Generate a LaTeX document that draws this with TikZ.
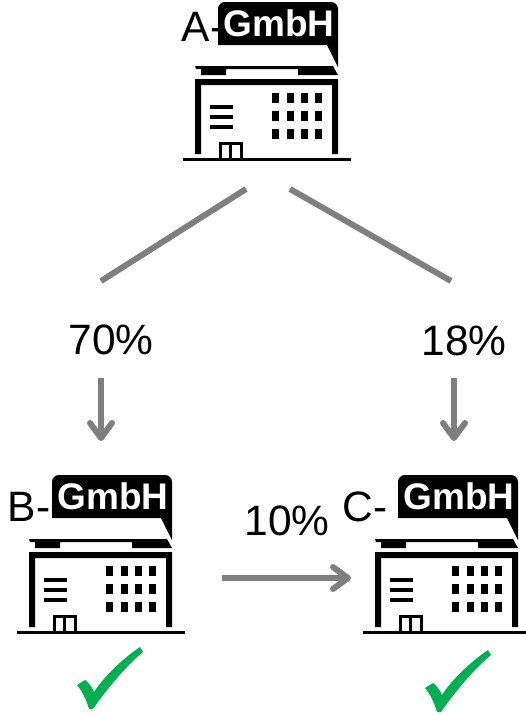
\documentclass[tikz,border=0pt]{standalone}
\usepackage{fontspec}
\setmainfont{Liberation Sans}
\usetikzlibrary{arrows.meta}
\definecolor{tickgreen}{HTML}{00B050}
\definecolor{linkgray}{HTML}{7F7F7F}

\begin{document}
\begin{tikzpicture}[x=1pt,y=-1pt,
   label/.style={inner sep=0pt,font=\fontsize{42.5}{42.5}\selectfont},
   share/.style={draw=linkgray,line width=6pt},
   flow/.style={share,-{Straight Barb[length=15pt,width=22pt,round]}},
   tick/.pic={
     \fill[tickgreen] (0,38) -- (8,33) .. controls (12,36) and (15,40) .. (17,45)
        .. controls (28,28) and (48,10) .. (63,0) -- (66,5)
        .. controls (48,20) and (30,42) .. (16,62) -- (12,62) .. controls (9,52) and (5,44) .. (0,38) -- cycle;
   },
   office/.pic={
     % speech bubble
     \fill[black] (0,43) -- (0,7) .. controls (0,3) and (3,0) .. (7,0) -- (113,0)
        .. controls (117,0) and (120,3) .. (120,7) -- (120,65) -- (109,43) -- cycle;
     \node[text=white,inner sep=0pt,font=\fontsize{37}{37}\selectfont\bfseries] (gmbh) at (61,21) {GmbH};
     % roof
     \fill[black] (-23,64) -- (115,64) -- (120,73) -- (80,73) -- (80,67) -- (8,67) -- (8,73) -- (-17,73) -- (-17,67) -- (-22,67) -- cycle;
     \fill[black] (-23,77) -- (120,77) -- (120,152) -- (114,152) -- (114,83) -- (-17,83) -- (-17,152) -- (-23,152) -- cycle;
     % ground and door
     \draw[line width=3pt] (-35,157) -- (133,157);
     \draw[line width=3pt] (2,156) -- (2,141.5) -- (23,141.5) -- (23,156);
     \draw[line width=2.5pt] (12.5,141) -- (12.5,156);
     % text lines
     \foreach \y in {103,113,123}
       \fill[black] (-8,\y) rectangle (15,\y+3.5);
     % windows
     \foreach \x in {54,68.5,83,97}
       \foreach \y in {91,109,126.5}
         \fill[black] (\x,\y) rectangle (\x+7,\y+10);
   }
]
\useasboundingbox (0,0) rectangle (526,716);

\node[label] (alabel) at (203,27) {A-};
\node[label] (blabel) at (29,507) {B-};
\node[label] (clabel) at (365,507) {C-};

\pic (a) at (218,2) {office};
\pic (b) at (52,475) {office};
\pic (c) at (398,475) {office};

\node[label] (p70) at (111,340) {70\%};
\node[label] (p18) at (464,341) {18\%};
\node[label] (p10) at (287,521) {10\%};

\coordinate (l1) at (246,189);
\coordinate (l2) at (101,281);
\coordinate (r1) at (290,189);
\coordinate (r2) at (451,281);
\draw[share] (l1) -- (l2);
\draw[share] (r1) -- (r2);

\coordinate (p70s) at (101,378);
\coordinate (p70e) at (101,441);
\coordinate (p18s) at (454,378);
\coordinate (p18e) at (454,441);
\coordinate (p10s) at (222,578);
\coordinate (p10e) at (351,578);
\draw[flow] (p70s) -- (p70e);
\draw[flow] (p18s) -- (p18e);
\draw[flow] (p10s) -- (p10e);

\pic (tb) at (77,647) {tick};
\pic (tc) at (425,650) {tick};
\end{tikzpicture}
\end{document}
